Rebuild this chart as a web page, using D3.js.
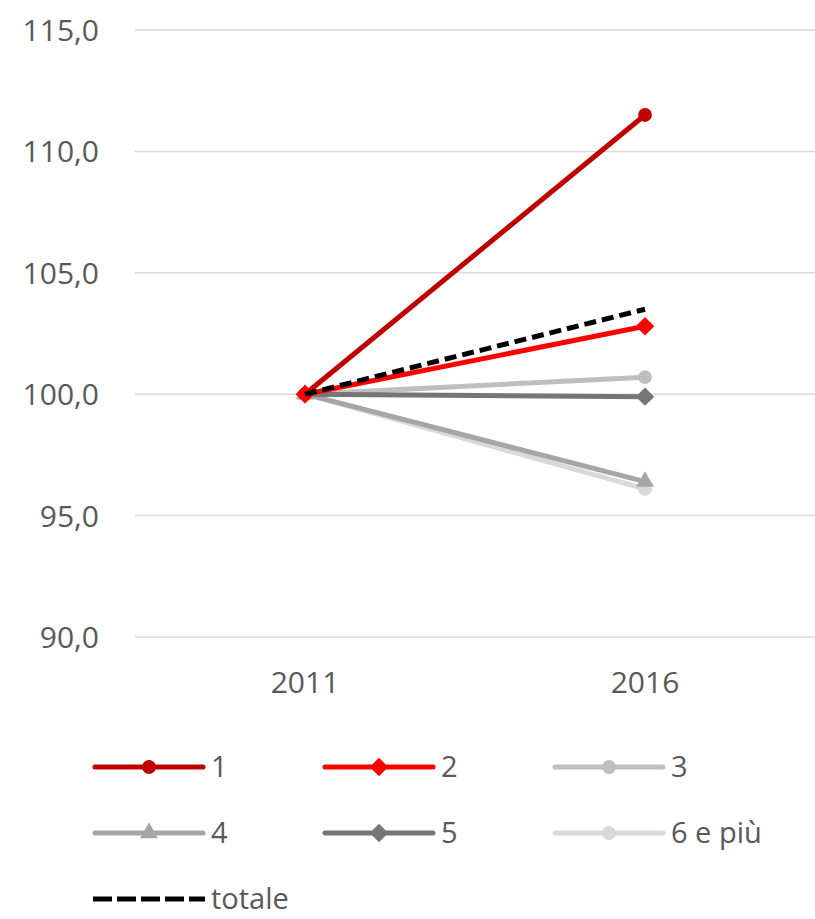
<!DOCTYPE html>
<html>
<head>
<meta charset="utf-8">
<script src="https://cdn.jsdelivr.net/npm/d3@7/dist/d3.min.js"></script>
<style>
  html, body { margin: 0; padding: 0; background: #ffffff; }
  svg text { font-family: "Open Sans", "Liberation Sans", sans-serif; fill: #595959; }
</style>
</head>
<body>
<svg id="chart" width="815" height="919"></svg>
<script>
// Index numbers (2011 = 100) by household size
const years = ["2011", "2016"];
const seriesNames = ["1", "2", "3", "4", "5", "6 e più", "totale"];
const values1 = [100.0, 111.5];
const values2 = [100.0, 102.8];
const values3 = [100.0, 100.7];
const values4 = [100.0, 96.4];
const values5 = [100.0, 99.9];
const values6 = [100.0, 96.1];
const valuesTot = [100.0, 103.5];
const yTicks = [90, 95, 100, 105, 110, 115];

const seriesStyle = [
  { name: seriesNames[0], values: values1, color: "#C00000", marker: "circle", dash: null },
  { name: seriesNames[1], values: values2, color: "#FF0000", marker: "diamond", dash: null },
  { name: seriesNames[2], values: values3, color: "#BFBFBF", marker: "circle", dash: null },
  { name: seriesNames[3], values: values4, color: "#A6A6A6", marker: "triangle", dash: null },
  { name: seriesNames[4], values: values5, color: "#767676", marker: "diamond", dash: null },
  { name: seriesNames[5], values: values6, color: "#D9D9D9", marker: "circle", dash: null },
  { name: seriesNames[6], values: valuesTot, color: "#000000", marker: null, dash: "12,6" }
];

const svg = d3.select("#chart");
const plotLeft = 135, plotRight = 815, plotTop = 30, plotBottom = 637;

const x = d3.scaleBand().domain(years).range([plotLeft, plotRight]);
const y = d3.scaleLinear().domain([90, 115]).range([plotBottom, plotTop]);
const cx = d => x(d) + x.bandwidth() / 2;

// Gridlines
svg.append("g")
  .selectAll("line")
  .data(yTicks)
  .join("line")
  .attr("x1", plotLeft).attr("x2", plotRight)
  .attr("y1", d => y(d)).attr("y2", d => y(d))
  .attr("stroke", "#D9D9D9").attr("stroke-width", 1.5);

// Y axis labels
const fmt = d => d.toFixed(1).replace(".", ",");
const yAxis = d3.axisLeft(y).tickValues(yTicks).tickFormat(fmt).tickSize(0).tickPadding(0);
const gy = svg.append("g").attr("transform", "translate(99,0)").call(yAxis);
gy.select(".domain").remove();
gy.selectAll("text").style("font-size", "30px").attr("dy", "0.35em").attr("fill", "#595959");

// X axis labels
const xAxis = d3.axisBottom(x).tickSize(0).tickPadding(0);
const gx = svg.append("g").attr("transform", "translate(0,672)").call(xAxis);
gx.select(".domain").remove();
gx.selectAll("text").style("font-size", "30px").attr("fill", "#595959");

// Markers: diamonds are squares turned by 45 degrees
const markerPath = m => {
  if (m === "circle") return d3.symbol().type(d3.symbolCircle).size(150)();
  if (m === "diamond") return d3.symbol().type(d3.symbolSquare).size(170)();
  return d3.symbol().type(d3.symbolTriangle).size(140)();
};
const markerRot = m => m === "diamond" ? " rotate(45)" : "";

const line = d3.line().x((d, i) => cx(years[i])).y(d => y(d));

// Draw order: grays first, then reds and total on top
const drawOrder = [5, 3, 2, 4, 0, 1, 6];
drawOrder.forEach(idx => {
  const s = seriesStyle[idx];
  svg.append("path")
    .datum(s.values)
    .attr("d", line)
    .attr("fill", "none")
    .attr("stroke", s.color)
    .attr("stroke-width", 5)
    .attr("stroke-dasharray", s.dash)
    .attr("stroke-linecap", s.dash ? "butt" : "round");
  if (s.marker) {
    svg.append("g")
      .selectAll("path")
      .data(s.values)
      .join("path")
      .attr("transform", (d, i) => `translate(${cx(years[i])},${y(d)})` + markerRot(s.marker))
      .attr("d", markerPath(s.marker))
      .attr("fill", s.color);
  }
});

// Legend
const legendPos = [
  { x: 93, y: 767 }, { x: 323, y: 767 }, { x: 553, y: 767 },
  { x: 93, y: 833 }, { x: 323, y: 833 }, { x: 553, y: 833 },
  { x: 93, y: 899 }
];
seriesStyle.forEach((s, i) => {
  const p = legendPos[i];
  const g = svg.append("g").attr("transform", `translate(${p.x},${p.y})`);
  g.append("line")
    .attr("x1", s.dash ? 0 : 2).attr("x2", s.dash ? 112 : 110)
    .attr("y1", 0).attr("y2", 0)
    .attr("stroke", s.color)
    .attr("stroke-width", 5)
    .attr("stroke-dasharray", s.dash ? "19,5" : null)
    .attr("stroke-linecap", s.dash ? "butt" : "round");
  if (s.marker) {
    g.append("path")
      .attr("transform", "translate(56,0)" + markerRot(s.marker))
      .attr("d", markerPath(s.marker))
      .attr("fill", s.color);
  }
  g.append("text")
    .attr("x", 118).attr("y", 0).attr("dy", "0.35em")
    .style("font-size", "29px")
    .text(s.name);
});
</script>
</body>
</html>
